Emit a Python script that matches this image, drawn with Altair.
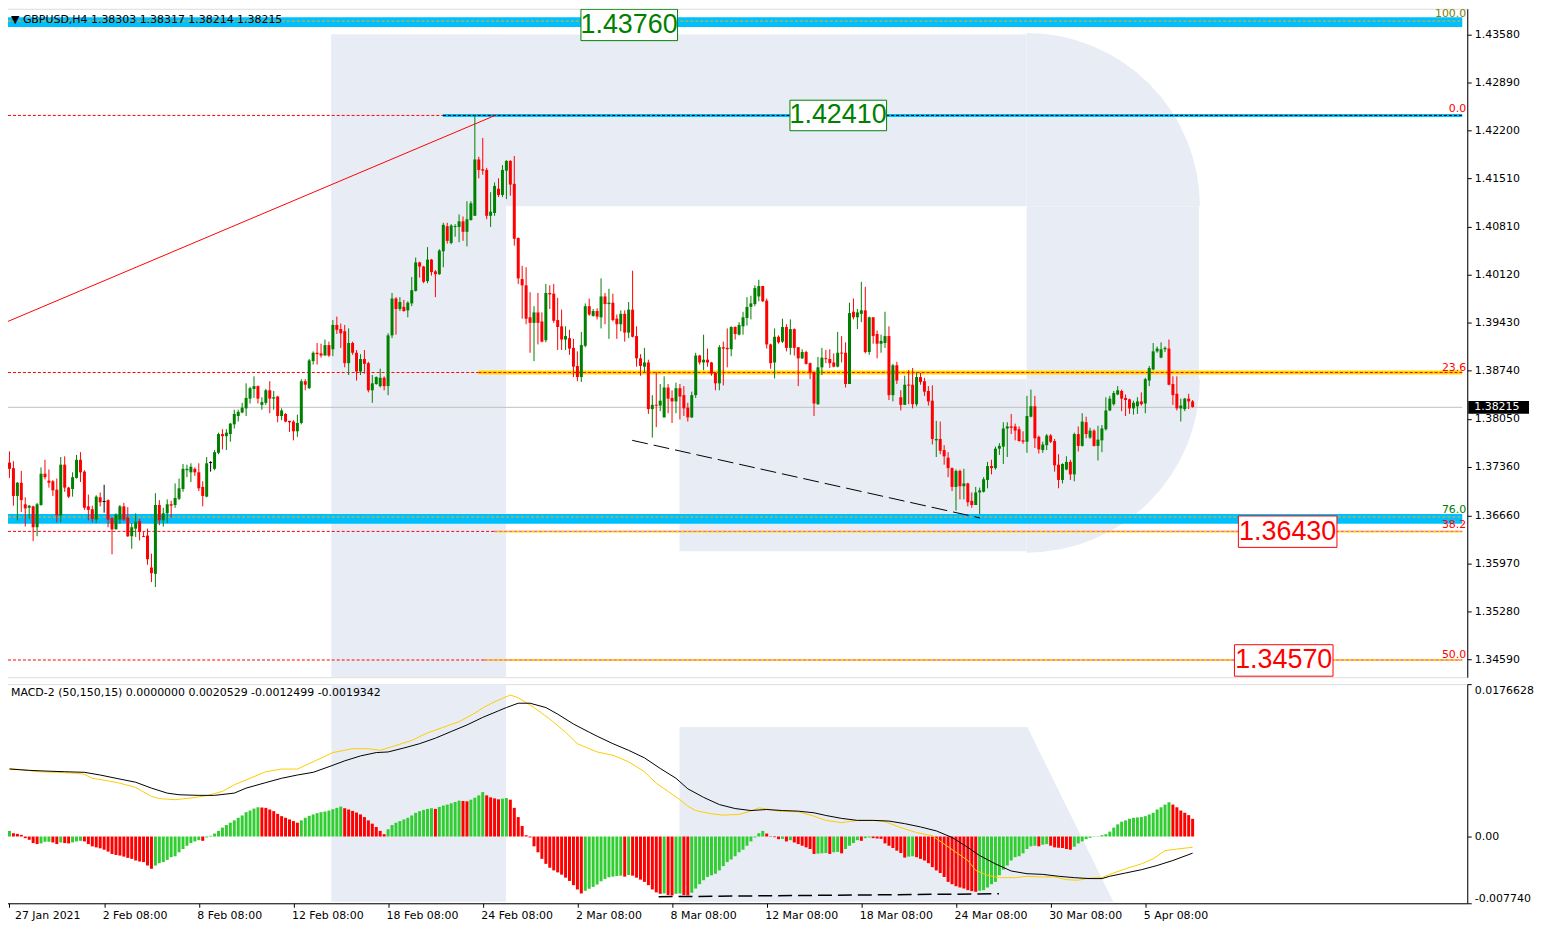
import math
import altair as alt
import pandas as pd

# ---------------- data (prices in 1e-4 units, GBPUSD H4) ----------------
OPEN = [
13742,13734,13694,13713,13682,13677,13679,13649,13681,13726,
13716,13715,13703,13666,13739,13706,13704,13720,13746,13729,
13679,13675,13660,13692,13686,13688,13662,13646,13660,13679,
13663,13636,13647,13658,13636,13637,13591,13582,13681,13659,
13669,13682,13681,13690,13704,13731,13728,13733,13728,13707,
13693,13742,13733,13756,13783,13780,13783,13797,13809,13814,
13820,13834,13848,13852,13825,13828,13846,13834,13837,13809,
13812,13802,13801,13787,13799,13859,13849,13888,13900,13899,
13896,13911,13905,13940,13934,13931,13885,13914,13900,13873,
13891,13885,13846,13855,13852,13864,13852,13925,13978,13963,
13966,13961,13971,13989,14030,14024,14003,14034,14017,14013,
14046,14082,14058,14081,14081,14089,14074,14091,14097,14178,
14164,14163,14097,14101,14136,14127,14162,14176,14143,14065,
14006,13997,13951,13943,13958,13945,13918,13986,13985,13947,
13938,13919,13921,13907,13881,13865,13910,13967,13953,13960,
13951,13981,13970,13972,13949,13941,13956,13929,13962,13924,
13892,13880,13886,13819,13825,13824,13807,13850,13835,13830,
13849,13839,13821,13807,13839,13896,13886,13890,13886,13871,
13856,13908,13907,13905,13937,13926,13938,13950,13966,13970,
13981,13996,13975,13912,13886,13923,13916,13937,13907,13934,
13908,13892,13901,13885,13872,13826,13879,13892,13891,13886,
13880,13900,13900,13855,13959,13951,13956,13961,13901,13951,
13927,13913,13914,13924,13839,13882,13836,13825,13854,13854,
13826,13865,13859,13845,13831,13774,13776,13760,13749,13734,
13707,13730,13708,13712,13687,13681,13699,13700,13717,13737,
13734,13762,13765,13791,13794,13794,13790,13774,13772,13808,
13823,13779,13760,13767,13781,13773,13739,13717,13732,13743,
13725,13783,13766,13800,13778,13788,13766,13774,13790,13817,
13826,13840,13845,13835,13833,13820,13823,13830,13827,13860,
13876,13902,13893,13905,13906,13855,13841,13820,13819,13834,
13830]
HIGH = [
13758,13744,13714,13730,13692,13681,13680,13684,13735,13746,
13732,13717,13719,13750,13751,13707,13728,13753,13757,13731,
13696,13680,13695,13699,13710,13689,13663,13669,13681,13684,
13678,13655,13669,13661,13642,13647,13611,13698,13688,13677,
13689,13687,13712,13719,13740,13739,13741,13735,13741,13715,
13750,13744,13760,13785,13790,13790,13799,13818,13818,13828,
13856,13851,13866,13853,13836,13848,13859,13845,13838,13820,
13813,13802,13803,13811,13862,13862,13891,13902,13914,13913,
13919,13916,13947,13952,13942,13940,13935,13916,13904,13898,
13904,13887,13868,13866,13877,13866,13928,13986,13980,13980,
13976,13974,14009,14037,14031,14025,14052,14035,14019,14049,
14087,14087,14085,14085,14099,14096,14118,14118,14242,14182,
14209,14166,14131,14145,14151,14170,14177,14177,14183,14066,
14025,14023,13987,13967,13986,13958,13999,13997,13999,13979,
13962,13938,13933,13920,13902,13930,13971,13978,13963,13964,
14007,13986,13992,13985,13955,13961,13961,13973,14018,13938,
13898,13907,13890,13839,13872,13855,13866,13855,13846,13857,
13855,13852,13828,13844,13900,13897,13926,13906,13887,13872,
13911,13916,13935,13938,13938,13944,13959,13980,13982,13997,
14005,13996,13978,13913,13935,13925,13949,13941,13948,13935,
13908,13905,13903,13886,13873,13894,13907,13904,13905,13899,
13930,13924,13915,13972,13978,13963,14002,13995,13952,13951,
13932,13926,13959,13938,13884,13887,13846,13867,13875,13878,
13872,13871,13864,13852,13853,13802,13801,13767,13757,13735,
13732,13732,13733,13713,13699,13707,13706,13721,13743,13746,
13765,13770,13800,13800,13812,13798,13794,13787,13838,13847,
13838,13781,13772,13783,13783,13776,13754,13741,13751,13746,
13785,13794,13813,13808,13792,13790,13795,13796,13836,13838,
13845,13852,13847,13840,13834,13831,13836,13843,13864,13881,
13914,13909,13915,13909,13919,13866,13866,13834,13835,13841,
13832]
LOW = [
13720,13680,13659,13671,13650,13661,13629,13636,13680,13718,
13706,13694,13656,13656,13700,13691,13693,13719,13714,13674,
13659,13656,13655,13679,13670,13649,13610,13646,13654,13658,
13635,13618,13635,13630,13635,13595,13570,13563,13652,13650,
13655,13663,13677,13688,13700,13721,13714,13723,13701,13679,
13692,13729,13731,13754,13761,13760,13772,13791,13801,13813,
13809,13827,13835,13827,13818,13825,13813,13818,13800,13803,
13800,13786,13774,13779,13797,13846,13848,13883,13883,13893,
13896,13894,13895,13927,13907,13879,13868,13897,13860,13868,
13870,13843,13828,13854,13850,13846,13839,13921,13926,13960,
13959,13951,13967,13988,14008,14000,14000,14011,13980,14012,
14023,14057,14056,14067,14059,14061,14053,14090,14097,14151,
14156,14092,14081,14097,14124,14124,14121,14126,14054,13999,
13949,13941,13900,13888,13912,13915,13915,13963,13943,13904,
13904,13904,13897,13865,13859,13858,13908,13953,13952,13948,
13935,13941,13920,13945,13920,13931,13916,13921,13922,13880,
13867,13872,13812,13778,13793,13816,13807,13813,13799,13813,
13804,13809,13801,13806,13835,13883,13875,13880,13867,13846,
13846,13853,13879,13895,13919,13925,13926,13939,13948,13967,
13974,13973,13906,13877,13863,13913,13914,13902,13897,13896,
13852,13891,13883,13862,13809,13825,13868,13885,13878,13879,
13879,13886,13850,13855,13948,13934,13944,13899,13897,13913,
13892,13900,13907,13832,13830,13855,13817,13825,13826,13820,
13823,13854,13838,13824,13768,13750,13754,13739,13721,13701,
13673,13689,13689,13679,13677,13681,13668,13699,13705,13725,
13732,13753,13740,13750,13783,13774,13772,13769,13756,13807,
13763,13755,13756,13760,13770,13729,13705,13712,13731,13717,
13715,13758,13765,13777,13776,13765,13745,13757,13788,13816,
13824,13839,13816,13809,13812,13811,13812,13824,13813,13852,
13875,13900,13892,13901,13853,13825,13817,13801,13816,13819,
13821]
CLOSE = [
13733,13694,13713,13688,13676,13680,13649,13682,13726,13721,
13713,13702,13666,13739,13706,13693,13721,13746,13728,13677,
13674,13661,13693,13685,13686,13660,13646,13667,13679,13660,
13636,13649,13657,13642,13635,13603,13583,13681,13659,13669,
13682,13680,13691,13705,13733,13733,13736,13728,13705,13694,
13741,13742,13757,13783,13780,13785,13798,13812,13815,13821,
13835,13849,13852,13834,13829,13846,13834,13836,13809,13817,
13801,13800,13787,13799,13859,13854,13889,13900,13898,13896,
13911,13896,13940,13933,13928,13885,13914,13900,13873,13891,
13884,13846,13856,13865,13864,13852,13925,13978,13963,13973,
13960,13972,13990,14030,14024,14002,14034,14016,14013,14047,
14084,14061,14083,14082,14089,14074,14092,14115,14178,14163,
14162,14097,14103,14140,14127,14163,14176,14142,14064,14007,
13997,13949,13943,13958,13943,13916,13986,13984,13946,13937,
13919,13924,13906,13880,13865,13911,13967,13955,13960,13952,
13981,13970,13972,13947,13941,13956,13929,13962,13923,13892,
13881,13886,13819,13825,13824,13831,13850,13834,13830,13849,
13837,13820,13807,13839,13896,13886,13890,13886,13870,13856,
13908,13906,13905,13937,13927,13940,13951,13966,13971,13993,
13996,13974,13912,13885,13923,13915,13937,13907,13934,13907,
13892,13901,13884,13871,13827,13879,13893,13891,13885,13880,
13900,13899,13855,13957,13951,13958,13961,13901,13951,13924,
13913,13917,13924,13839,13882,13860,13825,13854,13853,13826,
13865,13858,13844,13830,13776,13776,13759,13751,13734,13707,
13730,13708,13712,13685,13681,13699,13702,13718,13737,13734,
13762,13766,13791,13794,13792,13788,13773,13772,13809,13823,
13777,13761,13768,13781,13772,13738,13717,13740,13743,13725,
13783,13766,13801,13783,13788,13766,13775,13791,13817,13834,
13842,13846,13834,13832,13820,13828,13830,13826,13862,13878,
13902,13906,13905,13907,13854,13839,13820,13824,13834,13830,
13822]

# MACD histogram (units of 1e-4)
MACD_HIST = [
6.5,3.8,3.1,1.9,-1.9,-3.8,-7.6,-8.8,-8.0,-6.1,
-6.1,-6.9,-8.8,-6.9,-7.6,-8.0,-6.9,-5.7,-5.0,-5.7,
-8.8,-11.4,-12.6,-13.7,-15.3,-17.5,-20.2,-21.4,-22.1,-23.3,
-24.8,-25.9,-27.8,-29.0,-29.7,-33.6,-37.4,-33.6,-30.9,-29.7,
-27.1,-24.0,-22.9,-18.3,-14.5,-10.7,-7.6,-5.7,-4.2,-5.0,
-1.1,0.8,3.4,6.5,10.3,13.3,16.0,18.7,21.7,24.4,
28.2,30.1,32.4,33.9,33.6,33.2,31.3,29.4,26.3,23.6,
21.7,19.8,17.9,16.0,18.7,21.7,24.0,25.6,27.1,28.2,
29.0,30.1,31.7,33.2,34.7,32.8,31.3,29.7,27.8,25.6,
22.5,18.7,14.9,11.1,6.5,2.7,8.4,13.3,16.0,17.9,
19.8,21.7,24.4,27.5,29.4,30.9,32.0,32.8,32.0,34.3,
35.9,37.0,38.5,40.0,41.6,41.2,40.8,42.7,45.0,47.7,
51.5,47.7,45.4,44.2,43.1,43.9,44.6,42.7,33.2,22.5,
12.2,1.5,-1.1,-11.4,-18.3,-25.9,-31.7,-36.2,-39.3,-41.6,
-44.2,-47.7,-51.5,-56.4,-61.4,-66.0,-62.9,-60.6,-58.4,-55.7,
-51.9,-49.2,-47.3,-46.5,-45.8,-45.4,-46.5,-44.6,-45.4,-47.7,
-50.0,-52.6,-56.4,-61.4,-64.8,-66.4,-66.0,-67.9,-68.3,-66.4,
-66.0,-67.9,-68.3,-65.2,-60.3,-55.3,-50.7,-46.9,-45.0,-43.1,
-39.3,-34.3,-29.7,-26.7,-22.9,-18.3,-15.3,-10.7,-5.7,-1.1,
3.8,6.5,3.4,0.4,-0.8,-3.1,-2.7,-5.7,-4.2,-6.9,
-8.8,-10.7,-12.6,-14.5,-20.2,-19.8,-19.5,-19.1,-20.2,-18.3,
-17.9,-19.5,-14.5,-10.7,-7.6,-4.2,-5.0,-1.9,-1.1,-1.9,
-2.3,-2.7,-8.0,-10.7,-13.3,-16.4,-19.1,-24.4,-23.3,-22.9,
-24.0,-25.9,-27.8,-30.9,-35.5,-39.3,-42.3,-46.9,-52.6,-55.3,
-57.6,-59.1,-60.3,-62.2,-63.3,-64.1,-62.9,-62.2,-59.1,-55.3,
-52.6,-45.0,-38.5,-33.6,-27.8,-24.0,-22.9,-19.5,-14.5,-11.4,
-10.7,-11.4,-9.5,-8.8,-10.7,-12.6,-13.0,-13.3,-14.5,-15.3,
-11.8,-8.0,-5.7,-3.1,-1.5,-0.4,0.4,1.5,2.7,5.7,
10.3,14.1,17.2,18.7,20.6,21.7,22.1,22.5,23.6,25.6,
27.5,31.3,33.9,37.0,39.7,37.0,33.9,30.1,27.5,24.8,
20.5]

SIG_YELLOW_BAR = [0,4,7,12,17,19,21,25,28,32,36,38,42,46,50,54,57,61,65,69,73,77,82,87,91,94,98,102,106,110,114,118,120,122,125,127,129,133,137,141,144,147,149,153,157,161,164,167,170,172,174,178,181,185,188,190,192,195,200,204,207,211,215,219,222,226,230,234,237,240,243,245,248,251,255,258,261,265,268,271,274,277,279,283,287,290,293,296,300]
SIG_YELLOW = [78.9,77.0,75.1,74.4,73.2,72.1,67.5,64.5,61.8,56.8,46.5,43.9,42.7,44.6,47.3,52.3,59.9,67.5,75.1,78.2,78.2,86.6,97.3,101.8,101.8,99.9,105.6,111.4,120.1,126.6,133.1,143.0,149.0,154.0,160.2,164.0,160.9,149.5,136.2,120.9,107.6,101.8,98.0,94.2,86.6,75.1,61.8,52.3,42.7,35.1,30.1,26.3,24.8,25.6,29.4,33.2,32.0,29.4,28.6,23.6,18.7,16.0,18.7,18.7,17.2,10.3,4.6,0.8,-8.8,-18.3,-27.8,-39.3,-45.0,-47.7,-47.7,-46.1,-46.9,-46.9,-50.0,-50.7,-48.1,-47.7,-43.9,-37.4,-31.7,-25.9,-16.4,-14.5,-12.5]
SIG_BLACK_BAR = [0,5,9,14,19,23,27,32,36,40,43,48,52,57,60,65,69,73,77,81,85,89,93,96,100,104,108,112,116,120,124,126,129,132,136,139,143,147,149,153,157,161,165,169,172,176,180,184,188,192,196,200,204,207,211,215,219,223,227,231,235,239,243,246,250,254,258,262,266,270,274,277,279,283,287,291,295,300]
SIG_BLACK = [78.2,76.7,75.9,75.1,74.4,71.3,67.5,62.9,56.1,50.3,48.4,47.7,47.7,50.3,56.1,62.5,67.5,71.3,74.4,80.9,87.7,93.4,97.3,98.0,102.6,107.6,114.0,121.7,129.3,138.1,145.7,149.5,154.5,154.5,149.5,141.9,130.4,120.9,116.3,107.6,99.9,91.2,78.9,67.5,55.3,45.4,37.0,32.4,30.1,31.3,30.1,29.4,27.5,24.4,21.0,18.7,18.7,17.9,14.9,11.1,6.5,-1.1,-12.6,-22.1,-31.7,-40.0,-43.1,-43.9,-46.1,-47.7,-48.8,-48.8,-46.1,-42.3,-38.5,-33.6,-27.8,-19.3]

PRICE_TICKS = [1.43580, 1.42890, 1.42200, 1.41510, 1.40810, 1.40120, 1.39430,
               1.38740, 1.38050, 1.37360, 1.36660, 1.35970, 1.35280, 1.34590]
TIME_LABELS = ["27 Jan 2021", "2 Feb 08:00", "8 Feb 08:00", "12 Feb 08:00", "18 Feb 08:00",
               "24 Feb 08:00", "2 Mar 08:00", "8 Mar 08:00", "12 Mar 08:00", "18 Mar 08:00",
               "24 Mar 08:00", "30 Mar 08:00", "5 Apr 08:00"]
BARS_PER_LABEL = 24
LAST_PRICE = 1.38215
FIB_LEVELS = {"100.0": 1.43772, "0.0": 1.42414, "23.6": 1.38716, "76.0": 1.36637, "38.2": 1.36430, "50.0": 1.34580}
BOX_LABELS = ["1.43760", "1.42410", "1.36430", "1.34570"]

# ---------------- layout ----------------
W, H1, H2 = 1470, 671, 220
XMIN, XMAX = -0.375, 368.375
WMC = "#E8EDF5"
FONT = "DejaVu Sans"

xs = alt.Scale(domain=[XMIN, XMAX], nice=False, zero=False)
ps = alt.Scale(domain=[1.34333, 1.43948], nice=False, zero=False)
ms = alt.Scale(domain=[-0.00774, 0.0176628], nice=False, zero=False)

price_axis = alt.Axis(orient="right", values=PRICE_TICKS, format=".5f", title=None, grid=False,
                      tickSize=4, labelPadding=3, labelFont=FONT, labelFontSize=11,
                      labelColor="black", tickColor="black", domainColor="black",
                      labelOverlap=False, labelBound=False, labelFlush=False)
lab_arr = "[" + ",".join("'" + s + "'" for s in TIME_LABELS) + "]"
time_axis = alt.Axis(values=[k * BARS_PER_LABEL for k in range(len(TIME_LABELS))],
                     labelExpr=f"{lab_arr}[round(datum.value / {BARS_PER_LABEL})]",
                     title=None, grid=False, tickSize=4, labelAlign="left",
                     labelOffset={"condition": {"test": "datum.value === 0", "value": 5}, "value": -2},
                     labelPadding=2, labelFont=FONT, labelFontSize=11, labelColor="black",
                     tickColor="black", domainColor="black", labelOverlap=False,
                     labelFlush=False, labelBound=False)
macd_axis = alt.Axis(orient="right", values=[0.0176628, 0.0, -0.00774],
                     labelExpr="datum.value > 0.01 ? '0.0176628' : (datum.value < -0.001 ? '-0.007740' : '0.00')",
                     title=None, grid=False, tickSize=4, labelPadding=3, labelFont=FONT,
                     labelFontSize=11, labelColor="black", tickColor="black", domainColor="black",
                     labelFlush=True, labelOverlap=False)


def PX(f):
    return alt.X(f, type="quantitative", scale=xs, axis=None)


def PY(f):
    return alt.Y(f, type="quantitative", scale=ps, axis=price_axis)


def MX(f):
    return alt.X(f, type="quantitative", scale=xs, axis=time_axis)


def MY(f):
    return alt.Y(f, type="quantitative", scale=ms, axis=macd_axis)


def hseg(x0, x1, y, color, width=1, dash=None):
    kw = dict(color=color, strokeWidth=width, clip=True)
    if dash:
        kw["strokeDash"] = dash
    df = pd.DataFrame({"x": [x0], "x2": [x1], "y": [y]})
    return alt.Chart(df).mark_rule(**kw).encode(x=PX("x"), x2="x2:Q", y=PY("y"))


def seg(x0, y0, x1, y1, color, width=1, dash=None, panel="p"):
    kw = dict(color=color, strokeWidth=width, clip=True)
    if dash:
        kw["strokeDash"] = dash
    df = pd.DataFrame({"x": [x0], "x2": [x1], "y": [y0], "y2": [y1]})
    if panel == "p":
        return alt.Chart(df).mark_rule(**kw).encode(x=PX("x"), x2="x2:Q", y=PY("y"), y2="y2:Q")
    return alt.Chart(df).mark_rule(**kw).encode(x=MX("x"), x2="x2:Q", y=MY("y"), y2="y2:Q")


# ---------------- candles ----------------
CANDLE_COLORS = {"up": "#008000", "down": "#FF0000", "doji": "#000000"}
rows = []
for i in range(len(CLOSE)):
    o, h, l, c = OPEN[i] / 1e4, HIGH[i] / 1e4, LOW[i] / 1e4, CLOSE[i] / 1e4
    d = "up" if c > o else ("down" if c < o else "doji")
    top, bot = max(o, c), min(o, c)
    if top - bot < 0.00014:
        mid = (top + bot) / 2
        top, bot = mid + 0.00007, mid - 0.00007
    rows.append(dict(i=i, o=o, h=h, l=l, c=c, top=top, bot=bot, col=CANDLE_COLORS[d]))
cdf = pd.DataFrame(rows)
ccol = alt.Color("col:N", scale=None, legend=None)

wicks = alt.Chart(cdf).mark_rule(strokeWidth=1).encode(x=PX("i"), y=PY("l"), y2="h:Q", color=ccol)
bodies = alt.Chart(cdf).mark_bar(size=3).encode(x=PX("i"), y=PY("top"), y2="bot:Q", color=ccol)

# ---------------- watermark (price panel) ----------------
wm_rects = pd.DataFrame({
    "x": [81.6, 81.6, 257.9, 169.9],
    "x2": [125.9, 257.9, 301.6, 257.9],
    "y": [1.34333, 1.41106, 1.38617, 1.36143],
    "y2": [1.43580, 1.43580, 1.41106, 1.38617],
})
wm_price = alt.Chart(wm_rects).mark_rect(color=WMC).encode(x=PX("x"), x2="x2:Q", y=PY("y"), y2="y2:Q")
arc_top = alt.Chart(pd.DataFrame({"x": [257.9], "y": [1.41106]})).mark_arc(
    color=WMC, radius=174, radius2=0, theta=0, theta2=math.pi / 2).encode(x=PX("x"), y=PY("y"))
arc_bot = alt.Chart(pd.DataFrame({"x": [257.9], "y": [1.38617]})).mark_arc(
    color=WMC, radius=174, radius2=0, theta=math.pi / 2, theta2=math.pi).encode(x=PX("x"), y=PY("y"))

# ---------------- fibonacci / levels ----------------
BLUE = "#00BFFF"
bands = alt.Chart(pd.DataFrame({"x": [XMIN, XMIN], "x2": [XMAX, XMAX],
                                "y": [1.43686, 1.36539], "y2": [1.43828, 1.36680]})).mark_rect(
    color=BLUE, clip=True).encode(x=PX("x"), x2="x2:Q", y=PY("y"), y2="y2:Q")

levels = [
    bands,
    hseg(118.9, XMAX, FIB_LEVELS["23.6"], "#FFD700", 4),
    hseg(122.9, XMAX, FIB_LEVELS["38.2"], "#FFD700", 2),
    hseg(120.4, XMAX, FIB_LEVELS["50.0"], "#FFD700", 2),
    hseg(109.9, XMAX, FIB_LEVELS["0.0"], BLUE, 3),
    hseg(XMIN, XMAX, FIB_LEVELS["100.0"], "#FFB000", 1, [3, 2]),
    hseg(XMIN, XMAX, FIB_LEVELS["76.0"], "#FFB000", 1, [3, 2]),
    hseg(109.9, XMAX, FIB_LEVELS["0.0"], "#000000", 1, [3, 2]),
    hseg(118.9, XMAX, FIB_LEVELS["23.6"], "#FF0000", 1, [3, 2]),
    hseg(122.9, XMAX, FIB_LEVELS["38.2"], "#FF44FF", 1, [3, 2]),
    hseg(120.4, XMAX, FIB_LEVELS["50.0"], "#FF44FF", 1, [3, 2]),
    hseg(XMIN, 109.9, FIB_LEVELS["0.0"], "#FF0000", 1, [3, 2]),
    hseg(XMIN, 118.9, FIB_LEVELS["23.6"], "#FF0000", 1, [3, 2]),
    hseg(XMIN, 122.9, FIB_LEVELS["38.2"], "#FF0000", 1, [3, 2]),
    hseg(XMIN, 120.4, FIB_LEVELS["50.0"], "#FF0000", 1, [3, 2]),
    hseg(XMIN, XMAX, LAST_PRICE, "#C0C0C0", 1),
    seg(XMIN, 1.39451, 123.4, 1.42420, "#FF0000", 1),
    seg(157.9, 1.37740, 246.1, 1.36623, "#000000", 1, [16, 6]),
]

# fib level labels (drawn just above each level line)
fib_lab = pd.DataFrame({
    "t": ["100.0", "0.0", "23.6", "76.0", "38.2", "50.0"],
    "y": [1.43877, 1.42506, 1.38787, 1.36737, 1.36524, 1.34658],
    "col": ["#808000", "#FF0000", "#FF0000", "#008000", "#FF0000", "#FF0000"],
})
fib_text = alt.Chart(fib_lab).mark_text(align="right", baseline="middle", font=FONT, fontSize=11).encode(
    x=alt.value(W - 1), y=PY("y"), text="t:N", color=alt.Color("col:N", scale=None, legend=None))

# boxed price labels
box_df = pd.DataFrame({
    "t": BOX_LABELS,
    "x": [144.9, 197.9, 311.6, 310.6], "x2": [169.4, 222.4, 336.6, 335.6],
    "y": [1.43490, 1.42194, 1.36200, 1.34347], "y2": [1.43941, 1.42633, 1.36652, 1.34800],
    "cx": [157.1, 210.1, 324.1, 323.1], "cy": [1.43712, 1.42414, 1.36425, 1.34573],
    "col": ["#008000", "#008000", "#FF0000", "#FF0000"],
})
boxes = alt.Chart(box_df).mark_rect(fill="white", strokeWidth=1, clip=True).encode(
    x=PX("x"), x2="x2:Q", y=PY("y"), y2="y2:Q",
    stroke=alt.Stroke("col:N", scale=None, legend=None))
box_text = alt.Chart(box_df).mark_text(font="Liberation Sans", fontSize=27, baseline="middle").encode(
    x=PX("cx"), y=PY("cy"), text="t:N", color=alt.Color("col:N", scale=None, legend=None))

header = alt.Chart(pd.DataFrame({"t": ["\u25bc GBPUSD,H4  1.38303 1.38317 1.38214 1.38215"]})).mark_text(
    align="left", baseline="middle", font=FONT, fontSize=11, color="black").encode(
    x=alt.value(8), y=alt.value(11), text="t:N")

tag = alt.Chart(pd.DataFrame({"y": [LAST_PRICE - 0.00092], "y2": [LAST_PRICE + 0.00092]})).mark_rect(
    color="black").encode(x=alt.value(W + 1), x2=alt.value(W + 62), y=PY("y"), y2="y2:Q")
tag_text = alt.Chart(pd.DataFrame({"y": [LAST_PRICE], "t": ["1.38215"]})).mark_text(
    align="left", baseline="middle", font=FONT, fontSize=11, color="white").encode(
    x=alt.value(W + 7), y=PY("y"), text="t:N")

price_panel = alt.layer(
    wm_price, arc_top, arc_bot, *levels, wicks, bodies, fib_text, boxes, box_text, header, tag, tag_text
).properties(width=W, height=H1)

# ---------------- MACD panel ----------------
hrows = []
for i, v in enumerate(MACD_HIST):
    up = i == 0 or v >= MACD_HIST[i - 1]
    hrows.append(dict(i=i, v=v / 1e4, z=0.0, col="#32CD32" if up else "#FF0000"))
hdf = pd.DataFrame(hrows)

wm_macd_stem = alt.Chart(pd.DataFrame({"x": [81.6], "x2": [125.9], "y": [-0.00755], "y2": [0.0176628]})).mark_rect(
    color=WMC).encode(x=MX("x"), x2="x2:Q", y=MY("y"), y2="y2:Q")
wm_leg = alt.Chart(pd.DataFrame({"y": [0.0127, -0.00755], "x": [169.9, 169.9], "x2": [258.1, 279.9]})).mark_area(
    color=WMC, orient="horizontal").encode(y=MY("y"), x=MX("x"), x2="x2:Q")

hist = alt.Chart(hdf).mark_bar(size=3).encode(
    x=MX("i"), y=MY("v"), y2="z:Q", color=alt.Color("col:N", scale=None, legend=None))

ydf = pd.DataFrame({"i": SIG_YELLOW_BAR, "v": [v / 1e4 for v in SIG_YELLOW]})
bdf = pd.DataFrame({"i": SIG_BLACK_BAR, "v": [v / 1e4 for v in SIG_BLACK]})
yline = alt.Chart(ydf).mark_line(color="#FFCC00", strokeWidth=1).encode(x=MX("i"), y=MY("v"))
bline = alt.Chart(bdf).mark_line(color="#000000", strokeWidth=1).encode(x=MX("i"), y=MY("v"))
mdash = seg(164.6, -0.00698, 250.9, -0.00664, "#000000", 1.5, [14, 6], panel="m")

macd_header = alt.Chart(pd.DataFrame({"t": ["MACD-2 (50,150,15) 0.0000000 0.0020529 -0.0012499 -0.0019342"]})).mark_text(
    align="left", baseline="middle", font=FONT, fontSize=11, color="black").encode(
    x=alt.value(8), y=alt.value(9), text="t:N")

macd_panel = alt.layer(wm_macd_stem, wm_leg, hist, yline, bline, mdash, macd_header).properties(width=W, height=H2)

chart = alt.vconcat(price_panel, macd_panel, spacing=5).properties(
    padding={"left": -6, "top": -3, "right": 0, "bottom": 0}
).configure_view(stroke="black", strokeWidth=1).configure(background="white")

chart.save("out.html", embed_options={"renderer": "svg", "actions": False})
